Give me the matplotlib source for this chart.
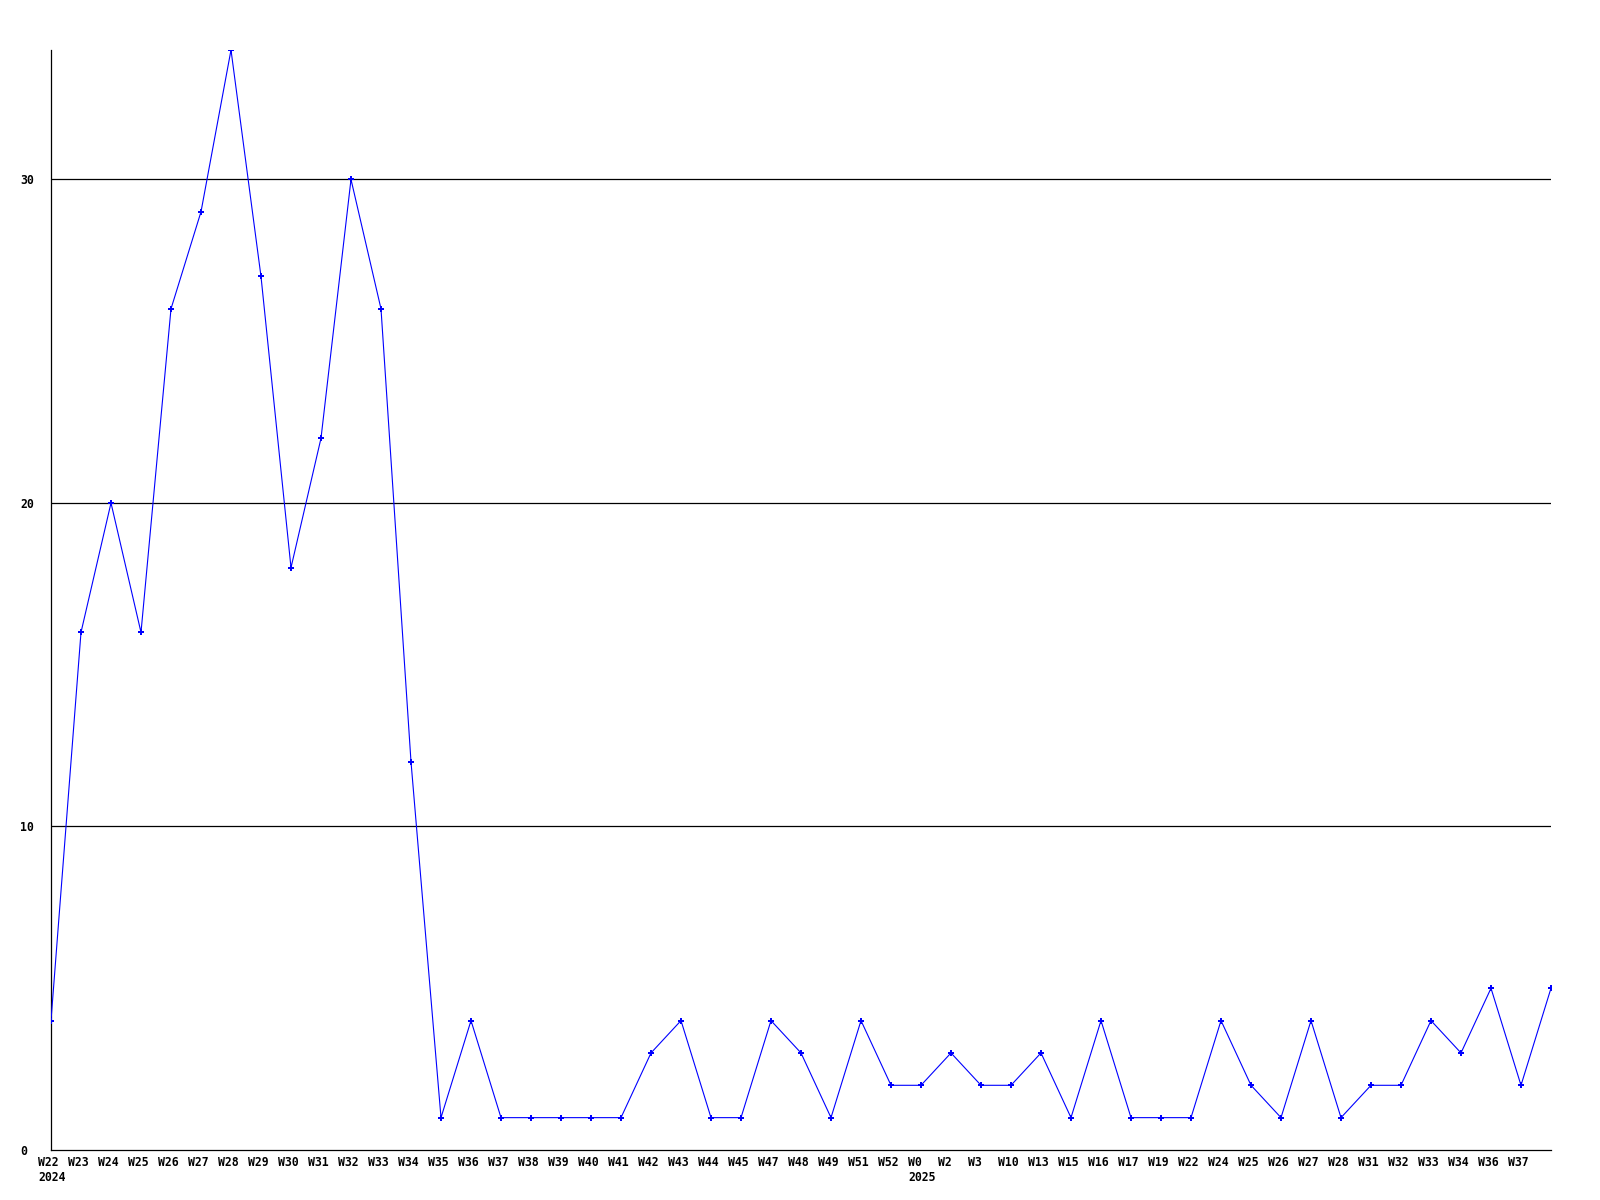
import matplotlib
matplotlib.use("Agg")
import matplotlib.pyplot as plt
import matplotlib.transforms as mtransforms
import numpy as np

weeks = ["W22", "W23", "W24", "W25", "W26", "W27", "W28", "W29", "W30", "W31",
         "W32", "W33", "W34", "W35", "W36", "W37", "W38", "W39", "W40", "W41",
         "W42", "W43", "W44", "W45", "W47", "W48", "W49", "W51", "W52",
         "W0", "W2", "W3", "W10", "W13", "W15", "W16", "W17", "W19", "W22",
         "W24", "W25", "W26", "W27", "W28", "W31", "W32", "W33", "W34", "W36",
         "W37", ""]
years = {0: "2024", 29: "2025"}
values = [4, 16, 20, 16, 26, 29, 34, 27, 18, 22,
          30, 26, 12, 1, 4, 1, 1, 1, 1, 1,
          3, 4, 1, 1, 4, 3, 1, 4, 2,
          2, 3, 2, 2, 3, 1, 4, 1, 1, 1,
          4, 2, 1, 4, 1, 2, 2, 4, 3, 5,
          2, 5]
yticks = [0, 10, 20, 30]

fig = plt.figure(figsize=(16, 12), dpi=100)
ax = fig.add_axes([51/1600, 50/1200, 1500/1600, 1100/1200])

x = np.arange(len(values))
ax.plot(x, values, color="#0000ff", linewidth=0.8, marker="P",
        markersize=4, markeredgewidth=0, zorder=3)

for yt in yticks[1:]:
    ax.axhline(yt, color="black", linewidth=0.9, zorder=1)

ax.set_xlim(0, len(values) - 1)
ax.set_ylim(0, 34)

for s in ["top", "right"]:
    ax.spines[s].set_visible(False)
for s in ["left", "bottom"]:
    ax.spines[s].set_linewidth(0.9)
    ax.spines[s].set_color("black")

font = dict(family="DejaVu Sans Mono", weight="bold", size=8.3)

ax.set_yticks(yticks)
ax.set_yticklabels([str(v) for v in yticks], **font)
ax.tick_params(axis="y", length=0, pad=0)
for lab in ax.get_yticklabels():
    lab.set_horizontalalignment("left")
    lab.set_transform(lab.get_transform() + mtransforms.ScaledTranslation(-31/100, 0, fig.dpi_scale_trans))

labels = []
for i, w in enumerate(weeks):
    if i in years:
        labels.append(w + "\n" + years[i])
    else:
        labels.append(w)
ax.set_xticks(x)
ax.set_xticklabels(labels, **font, linespacing=1.25)
ax.tick_params(axis="x", length=0, pad=4)
offset = mtransforms.ScaledTranslation(-13/100, 0, fig.dpi_scale_trans)
for lab in ax.get_xticklabels():
    lab.set_horizontalalignment("left")
    lab.set_multialignment("left")
    lab.set_transform(lab.get_transform() + offset)

fig.savefig("out.png", dpi=100, facecolor="white")
